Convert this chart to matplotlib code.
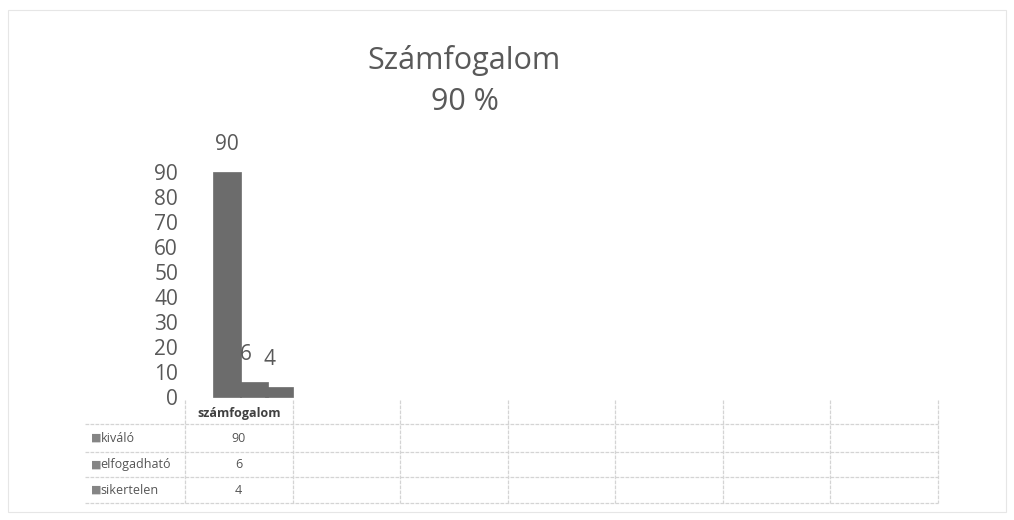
import numpy as np
import matplotlib
matplotlib.use('Agg')
import matplotlib.pyplot as plt

# adatok
categories = ['számfogalom', '', '', '', '', '', '']
series_names = ['kiváló', 'elfogadható', 'sikertelen']
series_values = [90, 6, 4]
yticks = [0, 10, 20, 30, 40, 50, 60, 70, 80, 90]
title = 'Számfogalom'
subtitle = '90 %'

bar_color = '#6c6c6c'
text_color = '#595959'
line_color = '#d4d4d4'

plt.rcParams['font.family'] = ['Open Sans', 'DejaVu Sans']

fig = plt.figure(figsize=(10.14, 5.2), dpi=100)
fig.patch.set_facecolor('white')
# x: 185..938 px, y: 0 -> 397 px, 90 -> 172 px
ax = fig.add_axes([185 / 1014, 1 - 397 / 520, (938 - 185) / 1014, 225 / 520])
ax.set_xlim(-0.5, len(categories) - 0.5)
ax.set_ylim(0, 90)

width = 0.26
offsets = [-0.11, 0.14, 0.375]
label_dx = [0, -6, -7]
for k, (name, val) in enumerate(zip(series_names, series_values)):
    xpos = 0 + offsets[k]
    ax.bar(xpos, val, width=width, color=bar_color, edgecolor=bar_color,
           linewidth=0.5, clip_on=False, zorder=3)
    ax.annotate(str(val), (xpos, val), xytext=(label_dx[k], 12),
                textcoords='offset points', ha='center', va='bottom',
                fontsize=15, color=text_color, annotation_clip=False)

ax.set_yticks(yticks)
ax.set_yticklabels([str(t) for t in yticks], fontsize=15, color=text_color)
ax.tick_params(axis='y', length=0, pad=5)
ax.set_xticks([])
for s in ax.spines.values():
    s.set_visible(False)
ax.set_facecolor('none')

# cím
fig.text(464 / 1014, 1 - 60 / 520, title, ha='center', va='center',
         fontsize=22, color=text_color)
fig.text(465 / 1014, 1 - 102 / 520, subtitle, ha='center', va='center',
         fontsize=22, color=text_color)

# adattábla (adatkoordinátákban, 2.5 px / egység)
row_lines = [-10.8, -22.0, -32.0, -42.4]
header_top = -1.2
left_x = -0.5 - 100 / 107.6
for y in row_lines:
    ax.plot([left_x, len(categories) - 0.5], [y, y], color=line_color, lw=0.9,
            ls=(0, (3, 1)), clip_on=False, zorder=1)
for i in range(len(categories) + 1):
    x = i - 0.5
    ax.plot([x, x], [header_top, row_lines[-1]], color=line_color, lw=0.9,
            ls=(0, (3, 1)), clip_on=False, zorder=1)

for i, c in enumerate(categories):
    if c:
        ax.text(i, -6.6, c, ha='center', va='center', fontsize=9,
                color='#404040', fontweight='bold', clip_on=False)

for r, (name, val) in enumerate(zip(series_names, series_values)):
    yc = (row_lines[r] + row_lines[r + 1]) / 2
    ax.text(left_x + 0.06, yc, '\u25A0', ha='left', va='center', fontsize=8,
            color='#858585', family=['DejaVu Sans'], clip_on=False)
    ax.text(left_x + 0.145, yc, name, ha='left', va='center', fontsize=9,
            color='#555555', clip_on=False)
    ax.text(0, yc, str(val), ha='center', va='center', fontsize=9,
            color='#555555', clip_on=False)

# halvány keret
fig.add_artist(plt.Rectangle((8 / 1014, 8 / 520), 998 / 1014, 502 / 520,
                             transform=fig.transFigure, fill=False,
                             edgecolor='#e6e6e6', lw=0.8))

fig.savefig('out.png', dpi=100, facecolor='white')
